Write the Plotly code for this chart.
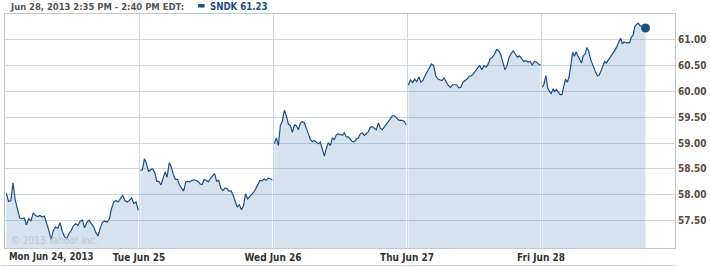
import numpy as np
import plotly.graph_objects as go

# ---------------- data ----------------
day_labels = ["Mon Jun 24, 2013", "Tue Jun 25", "Wed Jun 26", "Thu Jun 27", "Fri Jun 28"]

mon = [58.03, 57.87, 57.89, 58.23, 57.89, 57.73, 57.55, 57.54, 57.55, 57.42, 57.54, 57.49,
       57.65, 57.60, 57.58, 57.60, 57.57, 57.59, 57.47, 57.31, 57.13, 57.31, 57.38, 57.35,
       57.46, 57.29, 57.19, 57.15, 57.25, 57.31, 57.40, 57.44, 57.41, 57.49, 57.51, 57.36,
       57.47, 57.51, 57.44, 57.38, 57.27, 57.20, 57.36, 57.47, 57.49, 57.47, 57.53, 57.73,
       57.86, 57.89, 57.86, 57.92, 57.99, 57.89, 57.86, 57.89, 57.94, 57.83, 57.86, 57.70]
tue = [58.47, 58.49, 58.70, 58.60, 58.45, 58.49, 58.50, 58.43, 58.26, 58.26, 58.19, 58.34,
       58.44, 58.34, 58.62, 58.54, 58.39, 58.30, 58.30, 58.19, 58.13, 58.07, 58.25, 58.26,
       58.25, 58.28, 58.29, 58.28, 58.26, 58.21, 58.20, 58.30, 58.28, 58.25, 58.32, 58.37,
       58.41, 58.26, 58.28, 58.13, 58.08, 58.13, 58.12, 58.07, 58.08, 57.99, 57.86, 57.76,
       57.81, 57.71, 57.78, 58.02, 57.92, 57.96, 57.99, 58.05, 58.12, 58.19, 58.28, 58.27,
       58.31, 58.28, 58.32, 58.31, 58.29]
wed = [58.99, 59.10, 58.95, 59.34, 59.42, 59.64, 59.53, 59.37, 59.34, 59.21, 59.35, 59.34,
       59.26, 59.39, 59.42, 59.39, 59.29, 59.16, 59.07, 59.03, 59.05, 59.02, 58.99, 59.02,
       58.89, 58.75, 58.90, 59.01, 58.95, 59.10, 59.07, 59.16, 59.18, 59.16, 59.15, 59.20,
       59.12, 59.12, 59.08, 59.03, 59.03, 59.08, 59.10, 59.18, 59.20, 59.15, 59.18, 59.22,
       59.31, 59.32, 59.29, 59.26, 59.39, 59.29, 59.26, 59.31, 59.35, 59.40, 59.47, 59.53,
       59.53, 59.50, 59.45, 59.44, 59.44, 59.42, 59.35]
thu = [60.12, 60.23, 60.17, 60.24, 60.19, 60.28, 60.18, 60.22, 60.31, 60.38, 60.47, 60.53,
       60.51, 60.31, 60.24, 60.23, 60.21, 60.26, 60.19, 60.12, 60.08, 60.13, 60.13, 60.13,
       60.07, 60.08, 60.18, 60.21, 60.24, 60.30, 60.30, 60.34, 60.40, 60.47, 60.51, 60.42,
       60.50, 60.47, 60.53, 60.63, 60.66, 60.72, 60.81, 60.79, 60.72, 60.57, 60.42, 60.50,
       60.66, 60.74, 60.79, 60.72, 60.66, 60.69, 60.63, 60.58, 60.60, 60.57, 60.58, 60.51,
       60.58, 60.57, 60.53, 60.51]
fri = [60.08, 60.15, 60.31, 60.07, 60.00, 59.96, 60.05, 60.00, 60.04, 59.98, 59.94, 59.94,
       60.08, 60.24, 60.18, 60.28, 60.50, 60.76, 60.68, 60.77, 60.69, 60.60, 60.55, 60.69,
       60.72, 60.85, 60.79, 60.63, 60.53, 60.45, 60.37, 60.30, 60.32, 60.40, 60.49, 60.58,
       60.55, 60.60, 60.64, 60.69, 60.76, 60.81, 60.88, 60.95, 61.03, 60.92, 60.96, 60.94,
       60.95, 60.94, 61.05, 61.09, 61.26, 61.30, 61.32, 61.27, 61.26, 61.22, 61.23]
days = [mon, tue, wed, thu, fri]
# session fraction covered by each day's data (Fri ends at 2:40 PM)
session_end = [0.995, 0.995, 0.995, 0.997, 0.78]

y_ticks = [57.5, 58.0, 58.5, 59.0, 59.5, 60.0, 60.5, 61.0]
header = "Jun 28, 2013 2:35 PM - 2:40 PM EDT:"
legend_text = "SNDK 61.23"

# ---------------- style ----------------
LINE = "#1d4f86"
FILL = "rgba(52,116,170,0.20)"
GRID = "#cdd7e0"
BORDER = "#bcc8d2"
FONT = "DejaVu Sans Condensed, DejaVu Sans, Verdana, sans-serif"

W, H = 710, 267
ML, MR, MT, MB = 4, 33, 14, 18

fig = go.Figure()
for i, d in enumerate(days):
    x = i + np.linspace(0.01, session_end[i], len(d))
    fig.add_trace(go.Scatter(x=x, y=d, mode="none", fill="tozeroy", fillcolor=FILL,
                             hoverinfo="skip", showlegend=False))
    fig.add_trace(go.Scatter(x=x, y=d, mode="lines", line=dict(color=LINE, width=1.2),
                             showlegend=False))
    if i == len(days) - 1:
        fig.add_trace(go.Scatter(x=[x[-1]], y=[d[-1]], mode="markers",
                                 marker=dict(color=LINE, size=9), showlegend=False))

fig.update_xaxes(range=[0, 5], tickvals=[1, 2, 3, 4], ticktext=day_labels[1:],
                 showgrid=True, gridcolor=GRID, gridwidth=1,
                 showline=True, linecolor=BORDER, linewidth=1, mirror=True,
                 zeroline=False, ticks="", ticklen=0,
                 tickfont=dict(family=FONT, size=10, color="#333333", weight="bold"))
fig.update_yaxes(range=[56.97, 61.5], side="right", tickvals=y_ticks,
                 ticktext=[f"{v:.2f}" for v in y_ticks],
                 showgrid=True, gridcolor=GRID, gridwidth=1,
                 showline=True, linecolor=BORDER, linewidth=1, mirror=True,
                 zeroline=False, ticks="", ticklen=0,
                 tickfont=dict(family=FONT, size=10, color="#5a4b3c", weight="bold"))

def px(xp):
    return (xp - ML) / (W - ML - MR)

def py(yp):
    return (H - MB - yp) / (H - MT - MB)

annotations = [
    dict(text=day_labels[0], x=0, xref="x", xanchor="left", xshift=2,
         y=py(258), yref="paper", yanchor="middle", showarrow=False,
         font=dict(family=FONT, size=9.6, color="#333333", weight="bold")),
    dict(text=header, x=px(7), xref="paper", xanchor="left",
         y=py(6), yref="paper", yanchor="middle", showarrow=False,
         font=dict(family=FONT, size=9.4, color="#555555", weight="bold")),
    dict(text=legend_text, x=px(208), xref="paper", xanchor="left",
         y=py(6), yref="paper", yanchor="middle", showarrow=False,
         font=dict(family=FONT, size=9.6, color="#1d4f86", weight="bold")),
    dict(text="© 2013 Yahoo! Inc.", x=px(8), xref="paper", xanchor="left",
         y=py(241.5), yref="paper", yanchor="middle", showarrow=False,
         font=dict(family=FONT, size=10, color="#bcc6cf")),
]

shapes = [
    dict(type="rect", xref="paper", yref="paper", x0=px(198), x1=px(204.5), y0=py(7.5), y1=py(4),
         fillcolor=LINE, line=dict(width=0)),
    dict(type="line", xref="paper", yref="paper", x0=px(0), x1=1, y0=py(266.5), y1=py(266.5),
         line=dict(color="#d0d0d0", width=1)),
]

fig.update_layout(width=W, height=H, margin=dict(l=ML, r=MR, t=MT, b=MB, pad=0),
                  plot_bgcolor="white", paper_bgcolor="white",
                  annotations=annotations, shapes=shapes, showlegend=False,
                  hovermode=False)

fig.write_html("out.html")
